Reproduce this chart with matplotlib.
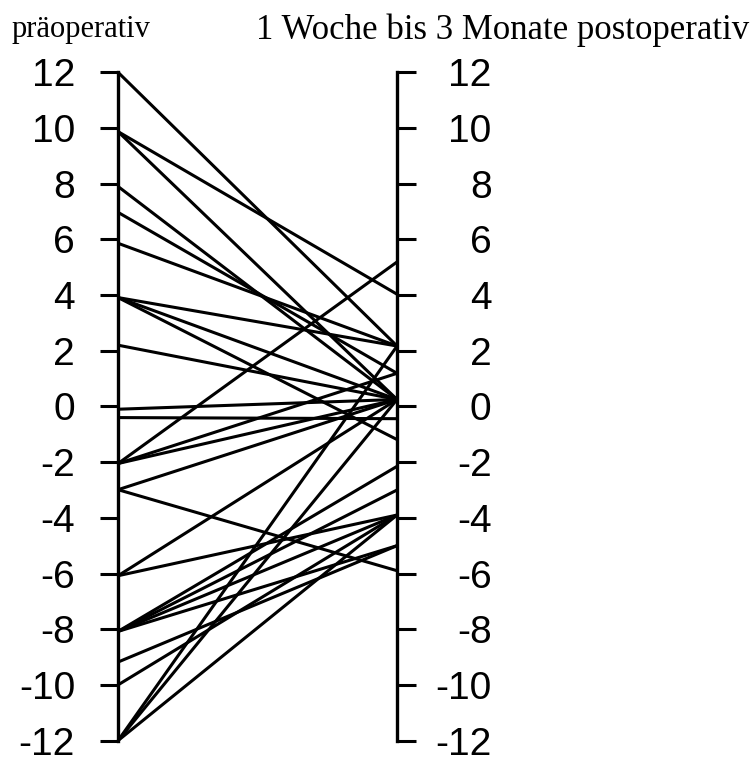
import matplotlib
matplotlib.use("Agg")
import matplotlib.pyplot as plt

# paired values: before surgery -> 1 week to 3 months after
pre = [12, 9.87, 9.87, 7.9, 6.97, 5.86, 3.91, 3.91, 3.91, 2.2, -0.1, -0.4,
       -2.05, -2.05, -2.05, -2.99, -2.99, -6.08, -6.08,
       -8.08, -8.08, -8.08, -8.08, -9.18, -10.0, -12, -12, -12]
post = [2.17, 4.03, 0.25, 0.25, 1.19, 2.17, 2.17, 0.25, -1.19, 0.25, 0.25, -0.44,
        5.19, 1.19, 0.25, 0.25, -5.9, 0.25, -3.9,
        -2.15, -3.0, -3.9, -5.0, -5.0, -3.9, 2.17, 0.25, -3.9]

ticks = list(range(-12, 13, 2))
tick_labels = [str(t) for t in ticks]
left_title = "präoperativ"
right_title = "1 Woche bis 3 Monate postoperativ"

fig = plt.figure(figsize=(7.52, 7.58), dpi=100)
ax = fig.add_axes([0.157, 0.023, 0.371, 0.8816])

for a, b in zip(pre, post):
    ax.plot([0, 1], [a, b], color="black", lw=2.2, solid_capstyle="butt", clip_on=False)

ax.set_xlim(0, 1)
ax.set_ylim(-12, 12)
ax.set_xticks([])
for s in ["top", "bottom", "right"]:
    ax.spines[s].set_visible(False)
ax.spines["left"].set_linewidth(2.4)
ax.set_yticks(ticks)
ax.set_yticklabels(tick_labels, fontsize=28, family="Liberation Sans")
ax.tick_params(axis="y", length=13, width=2.2, pad=18)

ax2 = ax.twinx()
ax2.set_ylim(-12, 12)
for s in ["top", "bottom", "left"]:
    ax2.spines[s].set_visible(False)
ax2.spines["right"].set_linewidth(2.4)
ax2.set_yticks(ticks)
ax2.set_yticklabels(tick_labels, fontsize=28, family="Liberation Sans")
ax2.tick_params(axis="y", length=14, width=2.2, pad=54)
for lab in ax2.get_yticklabels():
    lab.set_horizontalalignment("right")

fig.text(81 / 752, 1 - 30 / 758, left_title, ha="center", va="center",
         fontsize=22, family="Liberation Serif")
fig.text(503 / 752, 1 - 30 / 758, right_title, ha="center", va="center",
         fontsize=25, family="Liberation Serif")

fig.savefig("out.png", dpi=100, facecolor="white")
